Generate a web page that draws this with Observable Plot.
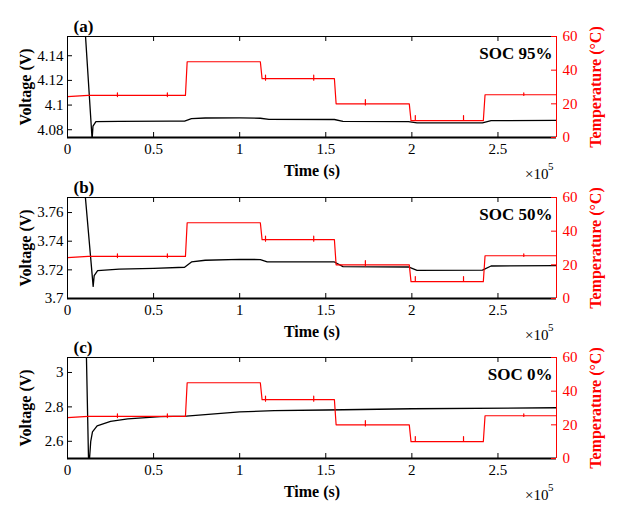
<!DOCTYPE html>
<html><head><meta charset="utf-8">
<script src="https://cdn.jsdelivr.net/npm/d3@7"></script>
<script src="https://cdn.jsdelivr.net/npm/@observablehq/plot@0.6"></script>
<style>
body{margin:0;background:#fff;}
#fig{position:relative;width:622px;height:518px;}
#fig svg{position:absolute;left:0;}
</style></head><body><div id="fig"></div>
<script>
// time in units of 1e5 s
const xTicks = [0, 0.5, 1, 1.5, 2, 2.5];
const xDomain = [0, 2.84];
const tempTicks = [0, 20, 40, 60];
const tempDomain = [0, 60];

// temperature profile (°C)
const tempTime = [0, 0.12,
  0.29, 0.29, 0.29, 0.29,
  0.58, 0.58, 0.58, 0.58,
  0.685, 0.695,
  1.12, 1.13,
  1.15, 1.15, 1.15, 1.15,
  1.43, 1.43, 1.43, 1.43,
  1.55, 1.56,
  1.73, 1.73, 1.73, 1.73,
  1.985, 1.995,
  2.02, 2.02, 2.02, 2.02,
  2.30, 2.30, 2.30, 2.30,
  2.415, 2.425,
  2.65, 2.65, 2.65, 2.65,
  2.84];
const tempVal = [24.3, 25,
  25, 26.5, 24.3, 25,
  25, 26.5, 24.3, 25,
  25, 45,
  45, 35,
  35, 37, 34, 35,
  35, 37, 34, 35,
  35, 20,
  20, 22.5, 19.3, 20,
  20, 10,
  10, 13, 10, 10,
  10, 13, 10, 10,
  10, 25.4,
  25.4, 26.5, 25, 25.4,
  25.4];

const panelLabels = ["(a)", "(b)", "(c)"];
const socLabels = ["SOC 95%", "SOC 50%", "SOC 0%"];
const voltDomains = [[4.0737, 4.1556], [3.7, 3.7705], [2.5, 3.087]];
const voltTicks = [[4.08, 4.1, 4.12, 4.14], [3.7, 3.72, 3.74, 3.76], [2.6, 2.8, 3]];

const voltTimeA = [0.10, 0.143, 0.148, 0.165, 0.30, 0.60, 0.68, 0.72, 0.80, 1.00, 1.12, 1.17, 1.55, 1.60, 1.98, 2.03, 2.41, 2.46, 2.84];
const voltA = [4.166, 4.072, 4.083, 4.0866, 4.0868, 4.087, 4.087, 4.089, 4.0895, 4.0896, 4.0893, 4.0884, 4.0883, 4.0868, 4.0866, 4.0855, 4.0856, 4.0874, 4.0876];

const voltTimeB = [0.10, 0.149, 0.155, 0.175, 0.30, 0.50, 0.68, 0.72, 0.80, 1.00, 1.12, 1.16, 1.55, 1.60, 1.98, 2.03, 2.41, 2.46, 2.84];
const voltB = [3.776, 3.7085, 3.716, 3.7195, 3.7205, 3.721, 3.7218, 3.7255, 3.7267, 3.7273, 3.7272, 3.7256, 3.7255, 3.7223, 3.722, 3.7197, 3.7198, 3.7227, 3.723];

const voltTimeC = [0.10, 0.123, 0.128, 0.135, 0.145, 0.172, 0.25, 0.35, 0.54, 0.69, 1.00, 1.20, 1.50, 2.00, 2.84];
const voltC = [3.58, 2.45, 2.50, 2.60, 2.655, 2.69, 2.716, 2.73, 2.743, 2.746, 2.771, 2.778, 2.782, 2.789, 2.795];

const voltTimes = [voltTimeA, voltTimeB, voltTimeC];
const voltVals = [voltA, voltB, voltC];

const RED = "#ff0000";
const FONT = "'Liberation Serif', 'Times New Roman', serif";
const panelTops = [0, 160.5, 321.3];

function panel(i) {
  const vd = voltDomains[i];
  const toV = t => vd[0] + (t - tempDomain[0]) / (tempDomain[1] - tempDomain[0]) * (vd[1] - vd[0]);
  const fromV = v => tempDomain[0] + (v - vd[0]) / (vd[1] - vd[0]) * (tempDomain[1] - tempDomain[0]);
  const temp = tempTime.map((t, j) => ({t, v: toV(tempVal[j])}));
  const volt = voltTimes[i].map((t, j) => ({t, v: voltVals[i][j]}));
  const W = 622, mL = 67, mR = 66, mT = 36, mB = 50, H = 187;
  const pw = W - mL - mR, ph = H - mT - mB;
  const txt = {text: d => d, lineAnchor: "middle"};
  const svg = Plot.plot({
    width: W, height: H,
    marginLeft: mL, marginRight: mR, marginTop: mT, marginBottom: mB,
    style: {background: "transparent", overflow: "visible", fontFamily: FONT, fontSize: "15px", color: "black"},
    x: {domain: xDomain},
    y: {domain: vd},
    marks: [
      Plot.line(volt, {x: "t", y: "v", stroke: "black", strokeWidth: 1.3, clip: true}),
      Plot.line(temp, {x: "t", y: "v", stroke: RED, strokeWidth: 1.2, clip: true}),
      Plot.ruleY([vd[1]], {stroke: "black", strokeWidth: 1}),
      Plot.ruleX([xDomain[0]], {stroke: "black", strokeWidth: 1}),
      Plot.ruleX([xDomain[1]], {stroke: RED, strokeWidth: 1}),
      Plot.ruleY([vd[0]], {stroke: "black", strokeWidth: 2}),
      Plot.tickY(voltTicks[i], {insetRight: pw - 5, stroke: "black"}),
      Plot.tickY(tempTicks.map(toV), {insetLeft: pw - 5, stroke: RED}),
      Plot.tickX(xTicks, {insetBottom: ph - 5, stroke: "black"}),
      Plot.tickX(xTicks, {insetTop: ph - 5, stroke: "black"}),
      Plot.axisY(voltTicks[i], {anchor: "left", tickSize: 0, tickPadding: 4, tickFormat: d => String(d), label: null}),
      Plot.axisY(tempTicks.map(toV), {anchor: "right", tickSize: 0, tickPadding: 6, tickFormat: v => String(Math.round(fromV(v))), label: null, color: RED}),
      Plot.axisX(xTicks, {anchor: "bottom", tickSize: 0, tickPadding: 6, tickFormat: d => String(d), label: null}),
      Plot.text([panelLabels[i]], {...txt, frameAnchor: "top-left", textAnchor: "start", dx: 6, dy: -10, fontWeight: "bold", fontSize: 17}),
      Plot.text([socLabels[i]], {...txt, frameAnchor: "top-right", textAnchor: "end", dx: -4, dy: 17.5, fontWeight: "bold", fontSize: 17}),
      Plot.text(["Time (s)"], {...txt, frameAnchor: "bottom", textAnchor: "middle", dy: 33, fontWeight: "bold", fontSize: 16}),
      Plot.text(["\u00d710"], {...txt, frameAnchor: "bottom-right", textAnchor: "end", dx: -8, dy: 37, fontSize: 15}),
      Plot.text(["5"], {...txt, frameAnchor: "bottom-right", textAnchor: "end", dx: -3, dy: 29, fontSize: 11}),
      Plot.text(["Voltage (V)"], {...txt, frameAnchor: "left", textAnchor: "middle", rotate: -90, dx: -42, fontWeight: "bold", fontSize: 16}),
      Plot.text(["Temperature (\u00b0C)"], {...txt, frameAnchor: "right", textAnchor: "middle", rotate: -90, dx: 39, fill: RED, fontWeight: "bold", fontSize: 16})
    ]
  });
  svg.style.top = panelTops[i] + "px";
  return svg;
}

const fig = document.getElementById("fig");
[0, 1, 2].forEach(i => fig.appendChild(panel(i)));
</script>
</body></html>
